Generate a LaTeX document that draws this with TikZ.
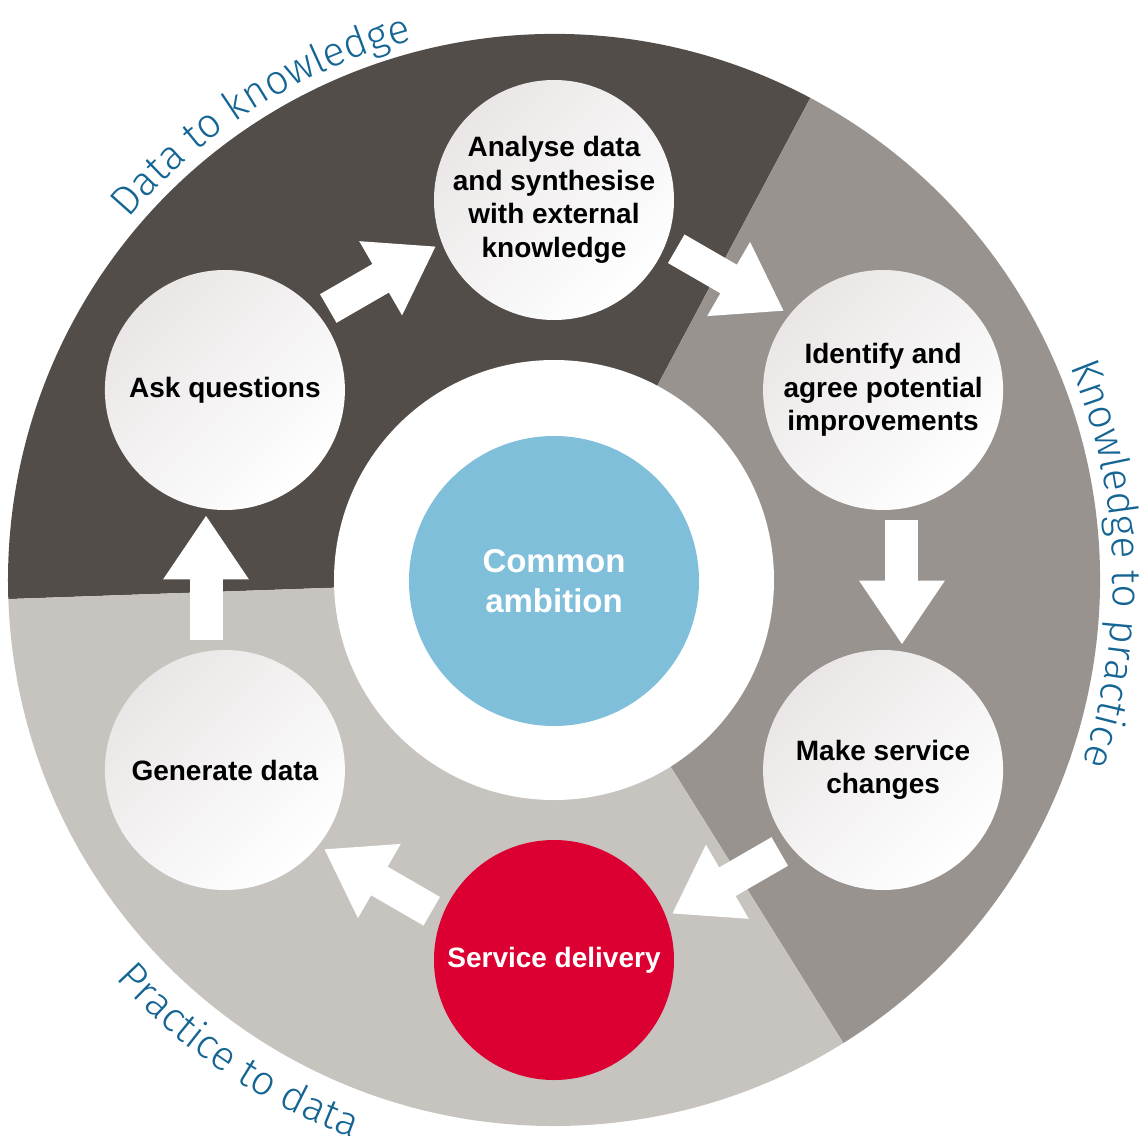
\documentclass[tikz,border=0pt]{standalone}
\usepackage{fontspec}
\setmainfont{Liberation Sans}
\newfontfamily\labelfamily{Fira Sans Light}
\usepackage{tikz}
\usetikzlibrary{
  arrows.meta,
  decorations.text
}
\usepackage{xcolor}
\definecolor{segdark}{RGB}{82,77,73}
\definecolor{segmid}{RGB}{152,147,143}
\definecolor{seglight}{RGB}{199,195,191}
\definecolor{ambitionblue}{RGB}{127,191,218}
\definecolor{deliveryred}{RGB}{220,0,50}
\definecolor{stagegrey}{RGB}{234,230,230}
\definecolor{labelblue}{RGB}{20,100,148}
\newcommand{\arclabelfont}{\labelfamily\fontsize{20.5}{20.5}\selectfont\color{labelblue}}
\tikzset{every picture/.style={line width=0.75pt}}
\tikzset{
  stage/.style={circle, minimum size=120pt, inner sep=0pt, align=center,
    font=\bfseries\fontsize{14}{16.8}\selectfont,
    top color=stagegrey, bottom color=white, shading angle=45},
  flow/.style={white, line width=16.5pt, -{Triangle[length=32pt, width=40.5pt]},
    shorten <=5.5pt, shorten >=3pt},
  arclabel/.style={decorate, decoration={text along path, text align=center,
    text={|\arclabelfont|#1}}}
}

\begin{document}
\begin{tikzpicture}[x=0.5pt,y=0.5pt]
\useasboundingbox (-554,-555) rectangle (590,580);

%Shape: Sector
\fill [segdark] (0,0) -- (62:546) arc [start angle=62, end angle=182, radius=546] -- cycle ;
%Shape: Sector
\fill [segmid] (0,0) -- (-58:546) arc [start angle=-58, end angle=62, radius=546] -- cycle ;
%Shape: Sector
\fill [seglight] (0,0) -- (182:546) arc [start angle=182, end angle=302, radius=546] -- cycle ;
%Shape: Circle
\fill [white] (0,0) circle [radius=220] ;

% Text Node
\draw (0,-1) node [circle, minimum size=145pt, inner sep=0pt, fill=ambitionblue, text=white, align=center, font=\bfseries\fontsize{16.5}{20}\selectfont] (ambition) {Common\\ambition};

% Text Node
\draw (90:380) node [stage] (analyse) {Analyse data\\and synthesise\\with external\\knowledge};
% Text Node
\draw (30:380) node [stage] (identify) {Identify and\\agree potential\\improvements};
% Text Node
\draw (-30:380) node [stage] (changes) {Make service\\changes};
% Text Node
\draw (-90:380) node [circle, minimum size=120pt, inner sep=0pt, fill=deliveryred, text=white, font=\bfseries\fontsize{14}{16.8}\selectfont] (delivery) {Service delivery};
% Text Node
\draw (210:380) node [stage] (generate) {Generate data};
% Text Node
\draw (150:380) node [stage] (ask) {Ask questions};

%Straight Lines
\draw [flow] (ask.39) -- (analyse.201) ;
\draw [flow] (analyse.-21) -- (identify.141) ;
\draw [flow] (identify.-81) -- (changes.81) ;
\draw [flow] (changes.-141) -- (delivery.21) ;
\draw [flow] (delivery.159) -- (generate.-39) ;
\draw [flow] (generate.99) -- (ask.261) ;

% Curved labels
\path [arclabel={Data to knowledge}] (152.2:558) arc [start angle=152.2, end angle=92.2, radius=558] ;
\path [arclabel={Knowledge to practice}] (31.7:559) arc [start angle=31.7, end angle=-28.3, radius=559] ;
\path [arclabel={Practice to data}] (206.2:593) arc [start angle=206.2, end angle=266.2, radius=593] ;

\end{tikzpicture}
\end{document}
